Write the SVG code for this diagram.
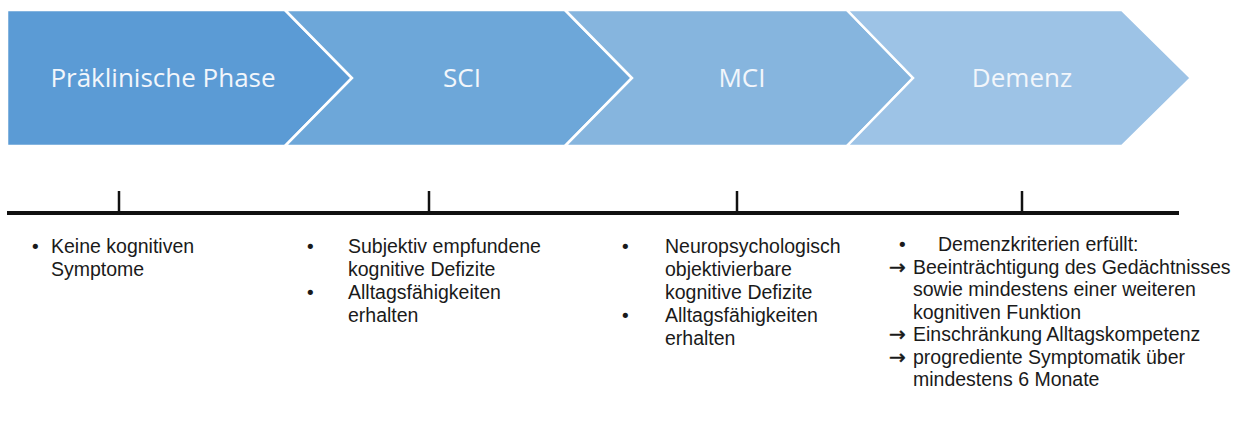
<svg xmlns="http://www.w3.org/2000/svg" width="1251" height="421" viewBox="0 0 1251 421">
<style>
.chev{stroke:#ffffff;stroke-width:2.5;stroke-linejoin:miter}
.head{font-family:"Open Sans","Noto Sans",sans-serif;font-size:26px;fill:#f2f6fb;text-anchor:middle}
.body{font-family:"Liberation Sans",Arial,sans-serif;font-size:19.5px;fill:#1a1a1a}
.bul{font-family:"DejaVu Sans",sans-serif;font-size:18px;fill:#1a1a1a}
.arr{font-family:"DejaVu Sans",sans-serif;font-size:20px;fill:#1a1a1a;stroke:#1a1a1a;stroke-width:0.5}
.tl{stroke:#111111;stroke-width:4;fill:none}
.tick{stroke:#111111;stroke-width:2.5;fill:none}
</style>
<rect width="1251" height="421" fill="#ffffff"/>
<g id="phase-praeklinisch">
<polygon class="chev" fill="#5b9bd5" points="7,10 285,10 352,78 285,146 7,146"/>
<text class="head" x="163" y="87">Präklinische Phase</text>
</g>
<g id="phase-sci">
<polygon class="chev" fill="#6da7d9" points="285,10 565,10 632,78 565,146 285,146 352,78"/>
<text class="head" x="462" y="87">SCI</text>
</g>
<g id="phase-mci">
<polygon class="chev" fill="#86b5de" points="565,10 847,10 913,78 847,146 565,146 632,78"/>
<text class="head" x="742" y="87">MCI</text>
</g>
<g id="phase-demenz">
<polygon class="chev" fill="#9dc3e6" points="847,10 1122,10 1191,78 1122,146 847,146 913,78"/>
<text class="head" x="1022" y="87">Demenz</text>
</g>
<g id="timeline">
<line class="tl" x1="7" y1="213" x2="1179" y2="213"/>
<line class="tick" x1="119" y1="191" x2="119" y2="213"/>
<line class="tick" x1="429" y1="191" x2="429" y2="213"/>
<line class="tick" x1="737" y1="191" x2="737" y2="213"/>
<line class="tick" x1="1022" y1="191" x2="1022" y2="213"/>
</g>
<g id="text-praeklinisch">
<text class="bul" x="30" y="253">•</text>
<text class="body" x="51" y="253">Keine kognitiven</text>
<text class="body" x="51" y="276">Symptome</text>
</g>
<g id="text-sci">
<text class="bul" x="305" y="253">•</text>
<text class="body" x="348" y="253">Subjektiv empfundene</text>
<text class="body" x="348" y="276">kognitive Defizite</text>
<text class="bul" x="305" y="299">•</text>
<text class="body" x="348" y="299">Alltagsfähigkeiten</text>
<text class="body" x="348" y="322">erhalten</text>
</g>
<g id="text-mci">
<text class="bul" x="620" y="253">•</text>
<text class="body" x="665" y="253">Neuropsychologisch</text>
<text class="body" x="665" y="276">objektivierbare</text>
<text class="body" x="665" y="299">kognitive Defizite</text>
<text class="bul" x="620" y="322">•</text>
<text class="body" x="665" y="322">Alltagsfähigkeiten</text>
<text class="body" x="665" y="345">erhalten</text>
</g>
<g id="text-demenz">
<text class="bul" x="897" y="251">•</text>
<text class="body" x="938" y="251">Demenzkriterien  erfüllt:</text>
<text class="arr" x="889" y="273.5">→</text>
<text class="body" x="913" y="273.5">Beeinträchtigung des Gedächtnisses</text>
<text class="body" x="913" y="296">sowie mindestens einer weiteren</text>
<text class="body" x="913" y="318.5">kognitiven Funktion</text>
<text class="arr" x="889" y="341">→</text>
<text class="body" x="913" y="341">Einschränkung Alltagskompetenz</text>
<text class="arr" x="889" y="363.5">→</text>
<text class="body" x="913" y="363.5">progrediente Symptomatik über</text>
<text class="body" x="913" y="386">mindestens 6 Monate</text>
</g>
</svg>
